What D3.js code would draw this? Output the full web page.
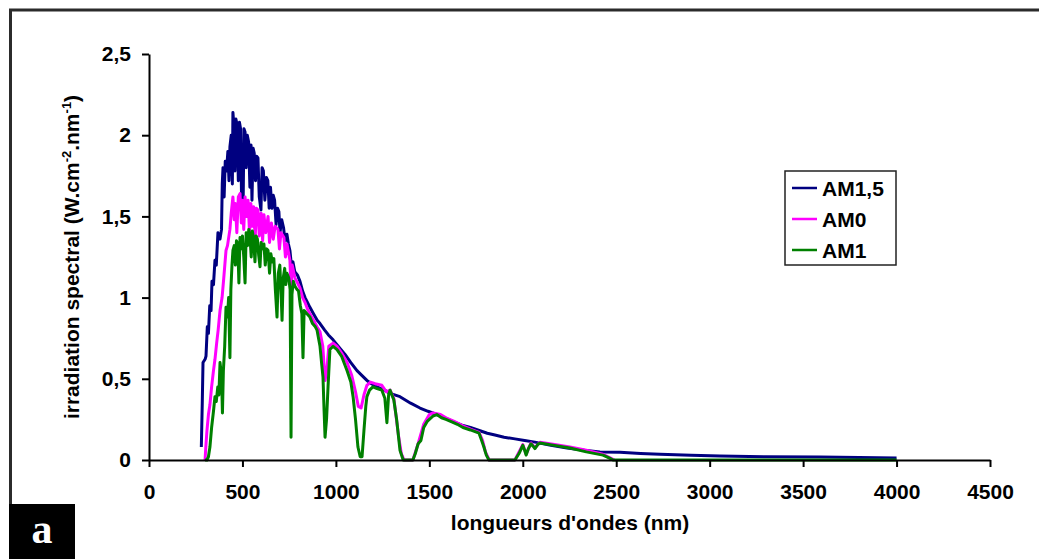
<!DOCTYPE html>
<html>
<head>
<meta charset="utf-8">
<script src="https://cdn.jsdelivr.net/npm/d3@7"></script>
<style>
	body { margin: 0; background: #fff; }
	text { font-family: "Liberation Sans", Arial, sans-serif; font-weight: bold; }
</style>
</head>
<body>
<div class="spectrum-chart"></div>
<script>
// wavelength (nm), spectral irradiance
const am15 = [
	[280, 0.08], [285, 0.35], [289, 0.6], [300, 0.62], [305, 0.64], [312, 0.82], [318, 0.78], [325, 0.95],
	[332, 0.92], [337, 1.1], [345, 1.08], [353, 1.23], [360, 1.2], [369, 1.4], [380, 1.36], [388, 1.42],
	[392, 1.7], [396, 1.8], [402, 1.62], [408, 1.84], [415, 1.78], [422, 1.9], [428, 1.72], [433, 1.93],
	[440, 2.0], [446, 1.7], [449, 2.14], [455, 2.05], [460, 1.78], [465, 2.1], [472, 2.06], [478, 1.72],
	[484, 2.08], [490, 2.04], [496, 1.55], [503, 1.5], [508, 2.04], [514, 2.02], [520, 1.8], [526, 2.0],
	[533, 1.96], [540, 1.68], [546, 1.94], [551, 1.6], [557, 1.92], [563, 1.89], [570, 1.72], [576, 1.87],
	[583, 1.86], [590, 1.62], [599, 1.54], [605, 1.8], [612, 1.78], [620, 1.6], [628, 1.74], [636, 1.72],
	[643, 1.55], [650, 1.68], [658, 1.55], [665, 1.63], [672, 1.6], [680, 1.45], [688, 1.55], [695, 1.53],
	[701, 1.4], [710, 1.48], [720, 1.43], [728, 1.35], [738, 1.39], [746, 1.33], [754, 1.29], [762, 1.2],
	[770, 1.22], [780, 1.16], [794, 1.14], [808, 1.1], [822, 1.04], [835, 1.0], [848, 0.97], [861, 0.94],
	[880, 0.9], [900, 0.86], [915, 0.84], [940, 0.8], [960, 0.77], [985, 0.74], [1020, 0.69], [1049, 0.65],
	[1080, 0.6], [1113, 0.55], [1140, 0.52], [1166, 0.49], [1190, 0.47], [1220, 0.45], [1260, 0.43],
	[1290, 0.41], [1343, 0.39], [1400, 0.35], [1450, 0.32], [1493, 0.3], [1540, 0.28], [1584, 0.26],
	[1630, 0.235], [1675, 0.215], [1720, 0.2], [1771, 0.18], [1810, 0.165], [1851, 0.154], [1900, 0.14],
	[1958, 0.13], [2010, 0.12], [2065, 0.11], [2150, 0.09], [2237, 0.074], [2330, 0.06], [2413, 0.05],
	[2520, 0.048], [2630, 0.04], [2734, 0.035], [2900, 0.03], [3055, 0.025], [3300, 0.02], [3591, 0.018],
	[3800, 0.015], [4000, 0.012]
];

const am0 = [
	[300, 0], [304, 0.08], [310, 0.18], [318, 0.28], [326, 0.34], [335, 0.45], [345, 0.55], [353, 0.62],
	[362, 0.72], [370, 0.8], [380, 0.92], [391, 1.0], [400, 1.12], [412, 1.29], [420, 1.32], [433, 1.42],
	[440, 1.52], [449, 1.62], [456, 1.48], [462, 1.58], [470, 1.4], [478, 1.62], [487, 1.64], [494, 1.46],
	[500, 1.6], [507, 1.42], [514, 1.62], [522, 1.5], [530, 1.6], [538, 1.4], [545, 1.58], [553, 1.44],
	[560, 1.56], [568, 1.36], [575, 1.55], [583, 1.54], [590, 1.38], [600, 1.52], [608, 1.35], [615, 1.51],
	[625, 1.4], [637, 1.5], [645, 1.34], [655, 1.46], [665, 1.36], [675, 1.44], [690, 1.42], [698, 1.3],
	[706, 1.4], [722, 1.37], [730, 1.25], [738, 1.33], [746, 1.28], [754, 1.23], [760, 1.05], [766, 1.2],
	[781, 1.12], [795, 1.09], [808, 1.06], [822, 1.0], [835, 0.97], [848, 0.93], [861, 0.9], [880, 0.86],
	[899, 0.82], [915, 0.79], [930, 0.7], [942, 0.49], [952, 0.56], [962, 0.7], [985, 0.72], [1006, 0.7],
	[1030, 0.66], [1060, 0.6], [1085, 0.52], [1105, 0.42], [1120, 0.33], [1135, 0.32], [1150, 0.4],
	[1166, 0.46], [1185, 0.48], [1210, 0.47], [1246, 0.46], [1270, 0.42], [1290, 0.43], [1310, 0.38],
	[1335, 0.15], [1350, 0.04], [1365, 0], [1412, 0], [1440, 0.1], [1470, 0.22], [1500, 0.28], [1519, 0.29],
	[1560, 0.28], [1589, 0.26], [1630, 0.24], [1680, 0.21], [1720, 0.19], [1766, 0.17], [1785, 0.12],
	[1800, 0.05], [1820, 0], [1958, 0], [2000, 0.095], [2018, 0.035], [2044, 0.105], [2065, 0.075],
	[2092, 0.11], [2170, 0.095], [2252, 0.08], [2340, 0.06], [2429, 0.035], [2470, 0.012], [2490, 0]
];

const am1 = [
	[300, 0], [310, 0], [318, 0.02], [326, 0.08], [335, 0.2], [345, 0.3], [353, 0.39], [360, 0.36],
	[368, 0.45], [374, 0.4], [380, 0.6], [388, 0.52], [393, 0.29], [398, 0.55], [405, 0.7], [412, 0.94],
	[420, 0.88], [426, 1.0], [433, 0.63], [438, 1.05], [444, 1.2], [449, 1.29], [456, 1.32], [462, 1.2],
	[468, 1.35], [475, 1.33], [481, 1.09], [487, 1.37], [494, 1.3], [500, 1.38], [507, 1.25], [514, 1.09],
	[520, 1.4], [527, 1.32], [534, 1.42], [540, 1.38], [547, 1.25], [553, 1.41], [560, 1.36], [567, 1.22],
	[573, 1.38], [580, 1.36], [587, 1.26], [594, 1.19], [600, 1.34], [607, 1.3], [615, 1.33], [622, 1.2],
	[630, 1.3], [637, 1.29], [645, 1.15], [652, 1.27], [660, 1.22], [668, 1.24], [676, 1.05], [685, 0.88],
	[692, 1.15], [700, 1.2], [707, 1.02], [712, 0.86], [718, 1.12], [726, 1.18], [732, 1.08], [738, 1.15],
	[748, 1.12], [755, 1.05], [760, 0.14], [765, 1.02], [772, 1.1], [781, 1.07], [792, 1.05], [800, 1.04],
	[810, 0.95], [818, 0.9], [824, 0.63], [830, 0.92], [845, 0.9], [861, 0.88], [875, 0.84], [890, 0.82],
	[899, 0.8], [915, 0.7], [925, 0.58], [931, 0.51], [937, 0.3], [942, 0.14], [950, 0.25], [958, 0.45],
	[968, 0.68], [985, 0.7], [1006, 0.68], [1030, 0.64], [1060, 0.55], [1080, 0.48], [1092, 0.39],
	[1105, 0.25], [1118, 0.08], [1130, 0.02], [1140, 0.02], [1150, 0.18], [1160, 0.33], [1166, 0.39],
	[1180, 0.43], [1198, 0.45], [1220, 0.44], [1246, 0.43], [1262, 0.38], [1273, 0.23], [1282, 0.4],
	[1290, 0.43], [1310, 0.37], [1325, 0.25], [1343, 0.06], [1360, 0], [1412, 0], [1425, 0.04], [1440, 0.1],
	[1455, 0.12], [1470, 0.2], [1490, 0.24], [1519, 0.27], [1540, 0.28], [1565, 0.26], [1589, 0.25],
	[1620, 0.235], [1650, 0.22], [1680, 0.2], [1720, 0.185], [1766, 0.165], [1780, 0.12], [1792, 0.08],
	[1805, 0.03], [1819, 0], [1958, 0], [1980, 0.04], [2000, 0.09], [2010, 0.06], [2018, 0.03], [2030, 0.07],
	[2044, 0.1], [2055, 0.085], [2065, 0.07], [2080, 0.095], [2092, 0.105], [2170, 0.09], [2252, 0.074],
	[2340, 0.05], [2429, 0.03], [2467, 0.01], [2483, 0], [4000, 0]
];

const seriesNames = ["AM1,5", "AM0", "AM1"];
const seriesColors = ["#000080", "#ff00ff", "#008000"];
const xTicks = [0, 500, 1000, 1500, 2000, 2500, 3000, 3500, 4000, 4500];
const yTicks = [0, 0.5, 1, 1.5, 2, 2.5];

const series = [am15, am0, am1];

const W = 1039;
const H = 559;
const margin = { top: 54, right: 49, bottom: 99, left: 149 };
const width = W - margin.left - margin.right;
const height = H - margin.top - margin.bottom;

const svg = d3
	.select(".spectrum-chart")
	.append("svg")
	.attr("width", W)
	.attr("height", H);

// outer frame (cut by the picture edges)
svg.append("rect")
	.attr("x", 10.5)
	.attr("y", 10)
	.attr("width", W + 20)
	.attr("height", H + 20)
	.attr("fill", "#fff")
	.attr("stroke", "#2b2b2b")
	.attr("stroke-width", 3);

const xScale = d3.scaleLinear().domain([0, 4500]).range([0, width]);
const yScale = d3.scaleLinear().domain([0, 2.5]).range([height, 0]);

const g = svg.append("g").attr("transform", `translate(${margin.left},${margin.top})`);

const line = d3
	.line()
	.x((d) => xScale(d[0]))
	.y((d) => yScale(d[1]));

g.append("g")
	.selectAll("path")
	.data(series)
	.join("path")
	.attr("d", line)
	.attr("fill", "none")
	.attr("stroke", (d, i) => seriesColors[i])
	.attr("stroke-width", 3)
	.attr("stroke-linejoin", "round");

const comma = (d) => String(d).replace(".", ",");

const xAxis = g.append("g")
	.attr("transform", `translate(0,${height})`)
	.call(d3.axisBottom(xScale).tickValues(xTicks).tickFormat(String).tickSize(7).tickSizeOuter(0).tickPadding(17));

const yAxis = g.append("g")
	.call(d3.axisLeft(yScale).tickValues(yTicks).tickFormat(comma).tickSize(7).tickSizeOuter(0).tickPadding(11));

[xAxis, yAxis].forEach((ax) => {
	ax.select(".domain").attr("stroke", "#000").attr("stroke-width", 2);
	ax.selectAll(".tick line").attr("stroke", "#000").attr("stroke-width", 2);
	ax.selectAll(".tick text")
		.attr("fill", "#000")
		.style("font-family", "'Liberation Sans', Arial, sans-serif")
		.style("font-weight", "bold")
		.style("font-size", "21px");
});

// axis titles
svg.append("text")
	.attr("x", 570)
	.attr("y", 530)
	.attr("text-anchor", "middle")
	.style("font-size", "21px")
	.text("longueurs d'ondes (nm)");

const yTitle = svg.append("text")
	.attr("transform", "translate(79,257) rotate(-90)")
	.attr("text-anchor", "middle")
	.style("font-size", "21px");
yTitle.append("tspan").text("irradiation spectral (W.cm");
yTitle.append("tspan").attr("dy", -8).style("font-size", "13px").text("-2");
yTitle.append("tspan").attr("dy", 8).text(".nm");
yTitle.append("tspan").attr("dy", -8).style("font-size", "13px").text("-1");
yTitle.append("tspan").attr("dy", 8).text(")");

// legend
const legend = svg.append("g").attr("transform", "translate(785,171)");

legend.append("rect")
	.attr("width", 111)
	.attr("height", 94)
	.attr("fill", "#fff")
	.attr("stroke", "#222")
	.attr("stroke-width", 1.5);

legend.selectAll("line")
	.data(seriesNames)
	.join("line")
	.attr("x1", 7)
	.attr("x2", 32)
	.attr("y1", (d, i) => 17 + i * 31)
	.attr("y2", (d, i) => 17 + i * 31)
	.attr("stroke", (d, i) => seriesColors[i])
	.attr("stroke-width", 2.5);

legend.selectAll("text")
	.data(seriesNames)
	.join("text")
	.attr("x", 37)
	.attr("y", (d, i) => 25 + i * 31)
	.style("font-size", "21px")
	.text((d) => d);

// panel letter
svg.append("rect")
	.attr("x", 9)
	.attr("y", 504)
	.attr("width", 66)
	.attr("height", 60)
	.attr("fill", "#000");

svg.append("text")
	.attr("x", 42)
	.attr("y", 543)
	.attr("text-anchor", "middle")
	.attr("fill", "#fff")
	.style("font-family", "'Liberation Serif', 'Times New Roman', serif")
	.style("font-size", "42px")
	.text("a");
</script>
</body>
</html>
